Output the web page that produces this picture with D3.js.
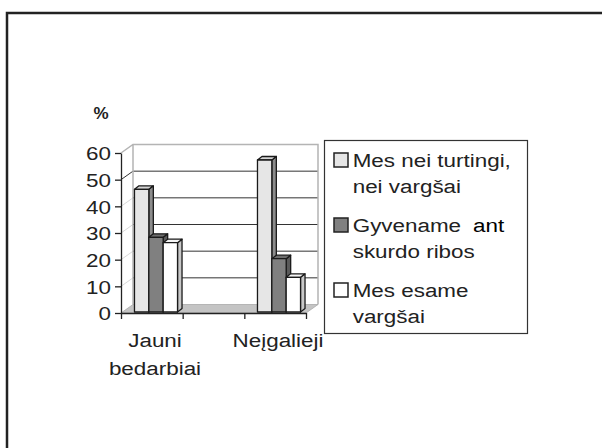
<!DOCTYPE html>
<html>
<head>
<meta charset="utf-8">
<script src="https://cdn.jsdelivr.net/npm/d3@7"></script>
<style>
  body { margin: 0; background: #fff; }
  svg { display: block; }
  text { font-family: "Liberation Sans", Arial, sans-serif; fill: #222; }
</style>
</head>
<body>
<div class="chart"></div>
<script>
var categories = ['Jauni bedarbiai', 'Neįgalieji'];
var categoryLines = [['Jauni', 'bedarbiai'], ['Neįgalieji']];
var series = ['Mes nei turtingi, nei vargšai', 'Gyvename ant skurdo ribos', 'Mes esame vargšai'];
var legendLines = [['Mes nei turtingi,', 'nei vargšai'], ['Gyvename', 'skurdo ribos'], ['Mes esame', 'vargšai']];
var valuesNeither = [46, 57];
var valuesEdge = [28, 20];
var valuesPoor = [26, 13];
var yTicks = [0, 10, 20, 30, 40, 50, 60];

var width = 602;
var height = 448;
var stretch = 1.18;       // text in the source is wider than tall
var depth = {dx: 12, dy: -8.5};   // front plane -> back wall
var barDepth = {dx: 4.5, dy: -3.5};

var seriesValues = [valuesNeither, valuesEdge, valuesPoor];
var fills = [
  {front: '#e6e6e6', side: '#8c8c8c', top: '#d4d4d4'},
  {front: '#808080', side: '#5a5a5a', top: '#6e6e6e'},
  {front: '#ffffff', side: '#c8c8c8', top: '#f4f4f4'}
];

var svg = d3.select('.chart')
.append('svg')
.attr('width', width)
.attr('height', height);

// outer frame (left + top only)
svg.append('path')
.attr('d', 'M7,448 L7,13 L602,13')
.attr('fill', 'none')
.attr('stroke', '#222')
.attr('stroke-width', 2.5);

var y = d3.scaleLinear().domain([0, 60]).range([313, 153]);
var x0 = d3.scaleBand().domain(categories).range([93.5, 339.5]).paddingInner(0.65).paddingOuter(0.325);
var x1 = d3.scaleBand().domain(series).range([0, x0.bandwidth()]);
var floorX = d3.scaleLinear().domain([0, 3]).range([121, 306]);

var left = floorX(0), right = floorX(3);
var y0 = y(0), yTop = y(60);

// back wall
svg.append('rect')
.attr('x', left + depth.dx).attr('y', yTop + depth.dy)
.attr('width', right - left).attr('height', y0 - yTop)
.attr('fill', '#fff');

// back wall gridlines
svg.append('g')
.selectAll('line')
.data(yTicks.slice(1, -1))
.enter().append('line')
.attr('x1', left + depth.dx).attr('x2', right + depth.dx)
.attr('y1', function(d) { return y(d) + depth.dy; })
.attr('y2', function(d) { return y(d) + depth.dy; })
.attr('stroke', '#333')
.attr('stroke-width', 1);

// side wall gridlines
svg.append('g')
.selectAll('line')
.data(yTicks.slice(1, -1))
.enter().append('line')
.attr('x1', left).attr('x2', left + depth.dx)
.attr('y1', function(d) { return y(d); })
.attr('y2', function(d) { return y(d) + depth.dy; })
.attr('stroke', function(d) { return d === 50 ? '#333' : '#d8d8d8'; })
.attr('stroke-width', 1);

// wall edges
svg.append('path')
.attr('d', 'M' + left + ',' + yTop + ' L' + (left + depth.dx) + ',' + (yTop + depth.dy) +
  ' L' + (right + depth.dx) + ',' + (yTop + depth.dy) + ' L' + (right + depth.dx) + ',' + (y0 + depth.dy) +
  ' M' + (left + depth.dx) + ',' + (yTop + depth.dy) + ' L' + (left + depth.dx) + ',' + (y0 + depth.dy))
.attr('fill', 'none')
.attr('stroke', '#b4b4b4')
.attr('stroke-width', 1.5);

// floor
svg.append('path')
.attr('d', 'M' + left + ',' + y0 + ' L' + (left + depth.dx) + ',' + (y0 + depth.dy) +
  ' L' + (right + depth.dx) + ',' + (y0 + depth.dy) + ' L' + right + ',' + y0 + 'Z')
.attr('fill', '#c4c4c4')
.attr('stroke', '#aaa')
.attr('stroke-width', 0.8);

// bars
var bars = [];
categories.forEach(function(c, ci) {
  series.forEach(function(s, si) {
    bars.push({cat: c, ser: s, si: si, value: seriesValues[si][ci]});
  });
});

function barPaths(d) {
  var bx = x0(d.cat) + x1(d.ser) + 1;
  var bw = x1.bandwidth();
  var by = y(d.value) - 1;
  var bb = y(0) - 1;
  var ddx = barDepth.dx, ddy = barDepth.dy;
  return {
    front: [[bx, by], [bx + bw, by], [bx + bw, bb], [bx, bb]],
    side: [[bx + bw, by], [bx + bw + ddx, by + ddy], [bx + bw + ddx, bb + ddy], [bx + bw, bb]],
    top: [[bx, by], [bx + ddx, by + ddy], [bx + bw + ddx, by + ddy], [bx + bw, by]]
  };
}
var line = d3.line();

var barG = svg.append('g')
.selectAll('g')
.data(bars)
.enter().append('g');

['side', 'top', 'front'].forEach(function(face) {
  barG.append('path')
  .attr('d', function(d) { return line(barPaths(d)[face]) + 'Z'; })
  .attr('fill', function(d) { return fills[d.si][face]; })
  .attr('stroke', '#1a1a1a')
  .attr('stroke-width', 1.3)
  .attr('stroke-linejoin', 'round');
});

// y axis
var yAxis = svg.append('g')
.attr('transform', 'translate(' + left + ',0)')
.call(d3.axisLeft(y).tickValues(yTicks).tickSize(6).tickSizeOuter(0));
yAxis.select('.domain').attr('stroke', '#222').attr('stroke-width', 1.3);
yAxis.selectAll('.tick line').attr('stroke', '#222').attr('stroke-width', 1.3);
yAxis.selectAll('.tick text')
.attr('x', 0).attr('dy', '0.36em')
.attr('transform', 'translate(-10,0) scale(' + stretch + ',1)')
.style('font-size', '19px')
.style('font-family', '"Liberation Sans", Arial, sans-serif')
.attr('fill', '#222');

// x axis along front floor edge
var xAxis = svg.append('g')
.attr('transform', 'translate(0,' + y0 + ')')
.call(d3.axisBottom(floorX).tickValues(d3.range(4)).tickSize(6).tickSizeOuter(0).tickFormat(''));
xAxis.select('.domain').attr('stroke', '#222').attr('stroke-width', 1.3);
xAxis.selectAll('.tick line').attr('stroke', '#222').attr('stroke-width', 1.3);

// category labels
svg.append('g')
.selectAll('text')
.data(categories)
.enter().append('text')
.attr('transform', function(d) { return 'translate(' + (x0(d) + x0.bandwidth() / 2) + ',347) scale(' + stretch + ',1)'; })
.attr('text-anchor', 'middle')
.style('font-size', '19px')
.each(function(d, i) {
  d3.select(this).selectAll('tspan')
  .data(categoryLines[i])
  .enter().append('tspan')
  .attr('x', 0)
  .attr('dy', function(t, j) { return j === 0 ? 0 : 28; })
  .text(function(t) { return t; });
});

// % label
svg.append('text')
.attr('x', 101).attr('y', 119)
.attr('text-anchor', 'middle')
.style('font-size', '17px')
.style('font-weight', 'bold')
.text('%');

// legend
var legend = svg.append('g');
legend.append('rect')
.attr('x', 324.5).attr('y', 140.5)
.attr('width', 203).attr('height', 193)
.attr('fill', '#fff')
.attr('stroke', '#333')
.attr('stroke-width', 1.2);

var item = legend.selectAll('.item')
.data(series)
.enter().append('g')
.attr('class', 'item')
.attr('transform', function(d, i) { return 'translate(0,' + (167 + i * 65) + ')'; });

item.append('rect')
.attr('x', 334).attr('y', -14)
.attr('width', 14).attr('height', 14)
.attr('fill', function(d, i) { return fills[i].front; })
.attr('stroke', '#222')
.attr('stroke-width', 1.5);

item.append('text')
.attr('transform', 'translate(352.7,0) scale(' + stretch + ',1)')
.style('font-size', '19px')
.each(function(d, i) {
  var t = d3.select(this);
  legendLines[i].forEach(function(l, j) {
    t.append('tspan').attr('x', 0).attr('y', j * 26).text(l);
    if (i === 1 && j === 0) {
      t.append('tspan').attr('x', 102).attr('y', 0).attr('fill', '#000').text('ant');
    }
  });
});
</script>
</body>
</html>
